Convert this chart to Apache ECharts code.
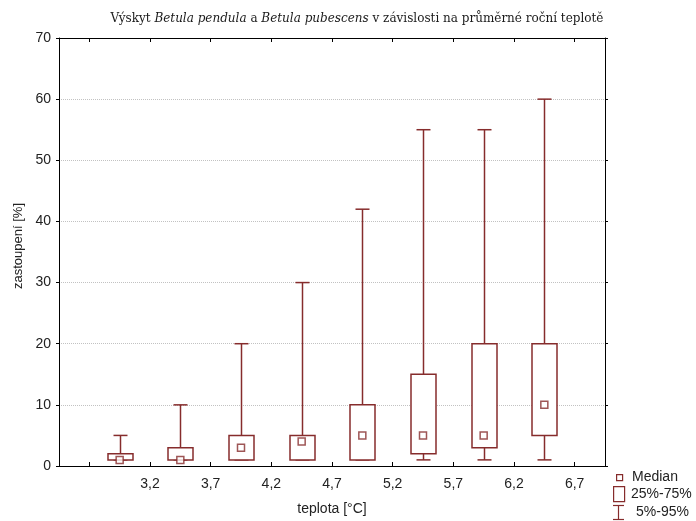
<!DOCTYPE html>
<html>
<head>
<meta charset="utf-8">
<script src="https://cdn.jsdelivr.net/npm/echarts@6/dist/echarts.min.js"></script>
<style>
  html, body { margin: 0; padding: 0; background: #fff; }
  #chart { width: 696px; height: 521px; }
</style>
</head>
<body>
<div id="chart"></div>
<script>
// Temperature classes (box centres, °C) and the statistics of each class (%)
const classCenters = [2.95, 3.45, 3.95, 4.45, 4.95, 5.45, 5.95, 6.45];
const p05     = [1, 1, 1, 1, 1, 1, 1, 1];
const p25     = [1, 1, 1, 1, 1, 2, 3, 5];
const medians = [1, 1, 3, 4, 5, 5, 5, 10];
const p75     = [2, 3, 5, 5, 10, 15, 20, 20];
const p95     = [5, 10, 20, 30, 42, 55, 55, 60];

// Axis ticks and labels
const xTickValues  = [2.7, 3.2, 3.7, 4.2, 4.7, 5.2, 5.7, 6.2, 6.7];
const xLabelValues = [3.2, 3.7, 4.2, 4.7, 5.2, 5.7, 6.2, 6.7];

const RED = '#862c2c';
const FONT = '"Liberation Sans", Arial, sans-serif';
const SERIF = '"DejaVu Serif", "Liberation Serif", serif';

const chart = echarts.init(document.getElementById('chart'), null, { renderer: 'canvas' });

const boxData = classCenters.map((c, i) => [c, p25[i], p75[i]]);
const whiskerData = classCenters.map((c, i) => [c, p05[i], p25[i], p75[i], p95[i]]);
const medianData = classCenters.map((c, i) => [c, medians[i]]);

const commaFmt = v => Number(v).toFixed(1).replace('.', ',');

chart.setOption({
  animation: false,
  backgroundColor: '#fff',
  title: {
    text: 'Výskyt {i|Betula pendula} a {i|Betula pubescens} v závislosti na průměrné roční teplotě',
    left: 352,
    top: 8,
    textAlign: 'center',
    textStyle: {
      fontFamily: SERIF,
      fontSize: 12,
      fontWeight: 'normal',
      color: '#1a1a1a',
      rich: {
        i: { fontFamily: SERIF, fontSize: 12, fontStyle: 'italic', color: '#1a1a1a' }
      }
    }
  },
  grid: { left: 59, right: 91, top: 38, bottom: 51 },
  xAxis: [
    {
      type: 'value',
      min: 2.45,
      max: 6.95,
      name: 'teplota [°C]',
      nameLocation: 'middle',
      nameGap: 36,
      nameTextStyle: { fontFamily: FONT, fontSize: 14, color: '#222' },
      axisLine: { show: true, onZero: false, lineStyle: { color: '#000', width: 1 } },
      axisTick: { show: true, inside: true, length: 4, customValues: xTickValues, lineStyle: { color: '#000' } },
      axisLabel: { customValues: xLabelValues, formatter: commaFmt, fontFamily: FONT, fontSize: 14, color: '#222', margin: 11 },
      splitLine: { show: false }
    },
    {
      type: 'value',
      position: 'top',
      min: 2.45,
      max: 6.95,
      axisLine: { show: true, onZero: false, lineStyle: { color: '#000', width: 1 } },
      axisTick: { show: true, inside: true, length: 4, customValues: xTickValues, lineStyle: { color: '#000' } },
      axisLabel: { show: false },
      splitLine: { show: false }
    }
  ],
  yAxis: [
    {
      type: 'value',
      min: 0,
      max: 70,
      interval: 10,
      name: 'zastoupení [%]',
      nameLocation: 'middle',
      nameGap: 31,
      nameTextStyle: { fontFamily: FONT, fontSize: 13, color: '#222', padding: [0, 0, 0, 12] },
      axisLine: { show: true, onZero: false, lineStyle: { color: '#000', width: 1 } },
      axisTick: { show: true, inside: false, length: 3, lineStyle: { color: '#000' } },
      axisLabel: { fontFamily: FONT, fontSize: 14, color: '#222', margin: 8 },
      splitLine: { show: true, lineStyle: { color: '#c2c2c2', type: 'dotted', width: 1 } }
    },
    {
      type: 'value',
      position: 'right',
      min: 0,
      max: 70,
      interval: 10,
      axisLine: { show: true, onZero: false, lineStyle: { color: '#000', width: 1 } },
      axisTick: { show: true, inside: false, length: 3, lineStyle: { color: '#000' } },
      axisLabel: { show: false },
      splitLine: { show: false }
    }
  ],
  series: [
    {
      name: '5%-95%',
      type: 'custom',
      xAxisIndex: 0,
      yAxisIndex: 0,
      data: whiskerData,
      encode: { x: 0, y: [1, 2, 3, 4] },
      renderItem: function (params, api) {
        const x = api.value(0);
        const pLow = api.coord([x, api.value(1)]);
        const pQ1 = api.coord([x, api.value(2)]);
        const pQ3 = api.coord([x, api.value(3)]);
        const pHigh = api.coord([x, api.value(4)]);
        const cap = 7;
        const st = { stroke: RED, lineWidth: 1.5, fill: null };
        const cx = Math.round(pHigh[0]) + 0.5;
        return {
          type: 'group',
          children: [
            { type: 'line', shape: { x1: cx, y1: pHigh[1], x2: cx, y2: pQ3[1] }, style: st },
            { type: 'line', shape: { x1: cx - cap, y1: pHigh[1], x2: cx + cap, y2: pHigh[1] }, style: st },
            { type: 'line', shape: { x1: cx, y1: pQ1[1], x2: cx, y2: pLow[1] }, style: st },
            { type: 'line', shape: { x1: cx - cap, y1: pLow[1], x2: cx + cap, y2: pLow[1] }, style: st }
          ]
        };
      },
      z: 2
    },
    {
      name: '25%-75%',
      type: 'custom',
      xAxisIndex: 0,
      yAxisIndex: 0,
      data: boxData,
      encode: { x: 0, y: [1, 2] },
      renderItem: function (params, api) {
        const x = api.value(0);
        const top = api.coord([x, api.value(2)]);
        const bot = api.coord([x, api.value(1)]);
        const w = 25;
        const cx = Math.round(top[0]) + 0.5;
        return {
          type: 'rect',
          shape: { x: cx - w / 2, y: top[1], width: w, height: bot[1] - top[1] },
          style: { fill: '#fff', stroke: RED, lineWidth: 1.5 }
        };
      },
      z: 3
    },
    {
      name: 'Median',
      type: 'scatter',
      xAxisIndex: 0,
      yAxisIndex: 0,
      data: medianData,
      symbol: 'rect',
      symbolSize: 7,
      itemStyle: { color: '#fff', borderColor: RED, borderWidth: 1.5 },
      z: 4
    }
  ],
  graphic: [
    { type: 'rect', left: 616, top: 474, shape: { width: 6, height: 6 }, style: { fill: '#fff', stroke: RED, lineWidth: 1.2 } },
    { type: 'text', left: 632, top: 470, style: { text: 'Median', font: '14px ' + FONT, fill: '#222' } },
    { type: 'rect', left: 613, top: 486, shape: { width: 11, height: 15 }, style: { fill: '#fff', stroke: RED, lineWidth: 1.2 } },
    { type: 'text', left: 631, top: 487, style: { text: '25%-75%', font: '14px ' + FONT, fill: '#222' } },
    { type: 'line', shape: { x1: 613, y1: 505.5, x2: 624, y2: 505.5 }, style: { stroke: RED, lineWidth: 1.2 } },
    { type: 'line', shape: { x1: 618.5, y1: 505.5, x2: 618.5, y2: 519.5 }, style: { stroke: RED, lineWidth: 1.2 } },
    { type: 'line', shape: { x1: 613, y1: 519.5, x2: 624, y2: 519.5 }, style: { stroke: RED, lineWidth: 1.2 } },
    { type: 'text', left: 636, top: 505, style: { text: '5%-95%', font: '14px ' + FONT, fill: '#222' } }
  ]
});
</script>
</body>
</html>
